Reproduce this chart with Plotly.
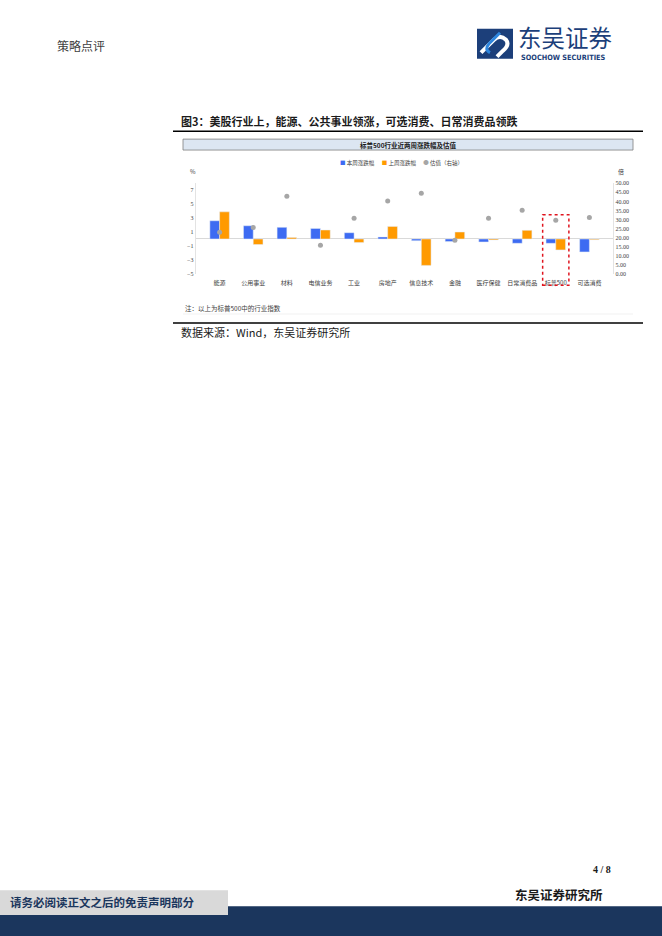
import plotly.graph_objects as go

W, H = 662, 936

sectors = ["能源", "公用事业", "材料", "电信业务", "工业", "房地产", "信息技术",
           "金融", "医疗保健", "日常消费品", "标普500", "可选消费"]
this_week = [2.62, 1.9, 1.67, 1.52, 0.9, 0.29, -0.24, -0.38, -0.43, -0.62, -0.62, -1.86]
last_week = [3.9, -0.8, 0.2, 1.29, -0.52, 1.81, -3.8, 1.0, -0.14, 1.24, -1.57, -0.1]
valuation = [23.0, 25.6, 42.9, 15.8, 30.7, 40.3, 44.5, 18.5, 30.7, 35.1, 29.6, 31.1]
left_ticks = [-5, -3, -1, 1, 3, 5, 7]
right_ticks = [0, 5, 10, 15, 20, 25, 30, 35, 40, 45, 50]

BLUE, ORANGE, GREY = "#3D6BF2", "#FF9A00", "#A6A6A6"
CJK = "Noto Sans CJK SC"
SERIF = "Liberation Serif"


def px(x):
    return x / W


def py(y):
    return 1 - y / H


fig = go.Figure()
fig.add_trace(go.Bar(x=sectors, y=this_week, name="本周涨跌幅", marker_color=BLUE))
fig.add_trace(go.Bar(x=sectors, y=last_week, name="上周涨跌幅", marker_color=ORANGE))
fig.add_trace(go.Scatter(x=sectors, y=valuation, name="估值（右轴）", mode="markers",
                         yaxis="y2", marker=dict(color=GREY, size=5)))

fig.update_layout(
    width=W, height=H,
    margin=dict(l=0, r=0, t=0, b=0),
    paper_bgcolor="white", plot_bgcolor="white",
    barmode="group", bargap=0.42, bargroupgap=0,
    font=dict(family=CJK, color="#404040"),
    showlegend=False,
    xaxis=dict(domain=[px(195.6), px(613.4)], anchor="y", showgrid=False, showline=False,
               ticks="", tickfont=dict(size=6, family=CJK, color="#404040"), ticklabelstandoff=4),
    yaxis=dict(domain=[py(272.5), py(181.5)], range=[-5, 8], tickvals=left_ticks,
               showgrid=False, zeroline=True, zerolinecolor="#D9D9D9", zerolinewidth=1,
               showline=True, linecolor="#E3E3E3", ticks="",
               tickfont=dict(size=6, family=SERIF, color="#404040")),
    yaxis2=dict(overlaying="y", side="right", range=[0, 50], tickvals=right_ticks,
                tickformat=".2f", showgrid=False, zeroline=False, showline=True,
                linecolor="#E3E3E3", ticks="",
                tickfont=dict(size=6, family=SERIF, color="#404040")),
)

shapes = [
    # figure title underline and bottom rule
    dict(type="line", xref="paper", yref="paper", x0=px(173), x1=px(643), y0=py(129), y1=py(129),
         line=dict(color="black", width=1.5)),
    dict(type="line", xref="paper", yref="paper", x0=px(173), x1=px(643), y0=py(322), y1=py(322),
         line=dict(color="black", width=1.5)),
    # inner chart title box
    dict(type="rect", xref="paper", yref="paper", x0=px(183), x1=px(633), y0=py(148), y1=py(137),
         fillcolor="#DCE6F2", line=dict(color="#7F7F7F", width=0.8)),
    # faint rule under the note
    dict(type="line", xref="paper", yref="paper", x0=px(183), x1=px(633), y0=py(313), y1=py(313),
         line=dict(color="#EDEDED", width=0.8)),
    # red dotted highlight around S&P 500
    dict(type="rect", xref="x", yref="paper", x0=9.61, x1=10.39, y0=py(284), y1=py(213),
         line=dict(color="#E0141E", width=1.5, dash="dot")),
    # footer bands
    dict(type="rect", xref="paper", yref="paper", x0=0, x1=1, y0=-0.01, y1=py(909),
         fillcolor="#1B365D", line=dict(width=0)),
    dict(type="rect", xref="paper", yref="paper", x0=0, x1=px(228), y0=py(918), y1=py(893),
         fillcolor="#D9D9D9", line=dict(width=0)),
    # logo
    dict(type="rect", xref="paper", yref="paper", x0=px(477), x1=px(513), y0=py(56), y1=py(26),
         fillcolor="#1C3F7A", line=dict(width=0)),
    dict(type="path", xref="paper", yref="paper",
         path=f"M {px(481)} {py(50)} L {px(494)} {py(37)} Q {px(500)} {py(31)} {px(506)} {py(37)} "
              f"Q {px(510)} {py(42)} {px(503)} {py(48)} L {px(497)} {py(54)}",
         line=dict(color="white", width=4)),
    dict(type="path", xref="paper", yref="paper",
         path=f"M {px(500)} {py(30)} L {px(489)} {py(41)} Q {px(484)} {py(47)} {px(490)} {py(50)}",
         line=dict(color="#2E86DE", width=3)),
]
fig.update_layout(shapes=shapes)

legend_text = (f'<span style="color:{BLUE}">■</span> 本周涨跌幅      '
               f'<span style="color:{ORANGE}">■</span> 上周涨跌幅      '
               f'<span style="color:{GREY}">●</span> 估值（右轴）')

notes = [
    dict(text="策略点评", x=55, y=43, size=12, color="#404040", anchor="left"),
    dict(text="东吴证券", x=516, y=34, size=23.5, color="#1C3F7A", anchor="left"),
    dict(text="<b>SOOCHOW SECURITIES</b>", x=519, y=54.5, size=7.3, color="#1C3F7A", anchor="left",
         family="DejaVu Sans Condensed"),
    dict(text="<b>图3：美股行业上，能源、公共事业领涨，可选消费、日常消费品领跌</b>", x=179, y=119,
         size=11, color="#1A1A1A", anchor="left"),
    dict(text="<b>标普500行业近两周涨跌幅及估值</b>", x=408, y=142.5, size=6.5, color="#1A1A1A",
         anchor="center"),
    dict(text=legend_text, x=401, y=161, size=5.5, color="#404040", anchor="center"),
    dict(text="%", x=193, y=170, size=6, color="#404040", anchor="center"),
    dict(text="倍", x=621, y=170, size=6, color="#404040", anchor="center"),
    dict(text="注：以上为标普500中的行业指数", x=183, y=307, size=6.5, color="#404040", anchor="left"),
    dict(text="数据来源：Wind，东吴证券研究所", x=179, y=331, size=11, color="#1A1A1A", anchor="left"),
    dict(text="<b>4 / 8</b>", x=613, y=872, size=10, color="#1A1A1A", anchor="right", family=SERIF),
    dict(text="<b>东吴证券研究所</b>", x=605, y=897, size=12.5, color="#1A1A1A", anchor="right"),
    dict(text="<b>请务必阅读正文之后的免责声明部分</b>", x=8, y=905, size=11.5, color="#1B365D",
         anchor="left"),
]
for n in notes:
    fig.add_annotation(text=n["text"], xref="paper", yref="paper", x=px(n["x"]), y=py(n["y"]),
                       xanchor=n["anchor"], yanchor="middle", showarrow=False,
                       font=dict(size=n["size"], color=n["color"], family=n.get("family", CJK)))

# drop the default page margin so the figure fills the window
fig.write_html("out.html", config={"displayModeBar": False},
               post_script="document.body.style.margin='0';")
